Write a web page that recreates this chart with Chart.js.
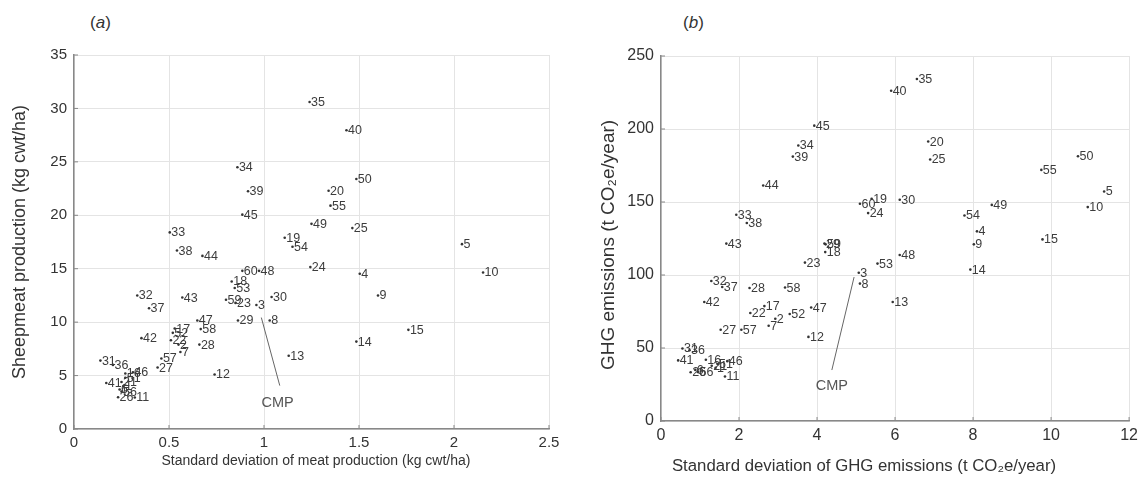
<!DOCTYPE html>
<html><head><meta charset="utf-8">
<script src="https://cdn.jsdelivr.net/npm/chart.js@4.4.1/dist/chart.umd.min.js"></script>
<style>
body{margin:0;background:#fff;width:1143px;height:482px;overflow:hidden;position:relative;font-family:"Liberation Sans",Arial,sans-serif;}
.cv{position:absolute;top:0;}
.lab{position:absolute;top:13px;font-size:17px;line-height:20px;color:#333;}
</style></head><body>
<div class="lab" style="left:90px">(<i>a</i>)</div>
<div class="lab" style="left:683px">(<i>b</i>)</div>
<div class="cv" style="left:0;"><canvas id="ca" width="570" height="482"></canvas></div>
<div class="cv" style="left:580px;"><canvas id="cb" width="563" height="482"></canvas></div>
<script>
// farm identifiers
const farmIds = [1,2,3,4,5,6,7,8,9,10,11,12,13,14,15,16,17,18,19,20,21,22,23,24,25,26,27,28,29,30,
  31,32,33,34,35,36,37,38,39,40,41,42,43,44,45,46,47,48,49,50,51,52,53,54,55,56,57,58,59,60];

// panel (a): standard deviation of meat production vs sheepmeat production
const sdMeat = [0.26,0.55,0.96,1.504,2.042,0.24,0.56,1.03,1.60,2.153,0.32,0.74,1.13,1.486,1.76,0.27,0.53,0.83,1.109,1.34,
  0.25,0.51,0.85,1.244,1.465,0.232,0.44,0.66,0.863,1.04,0.139,0.333,0.504,0.86,1.24,0.205,0.395,0.542,0.916,1.434,
  0.17,0.355,0.57,0.676,0.886,0.31,0.649,0.974,1.25,1.486,0.27,0.52,0.846,1.15,1.35,0.25,0.46,0.667,0.80,0.886];
const sheepmeat = [4.0,7.9,11.6,14.53,17.3,3.7,7.2,10.15,12.5,14.65,2.95,5.1,6.85,8.18,9.28,5.2,9.4,13.8,17.9,22.3,
  4.4,8.3,11.8,15.15,18.8,2.97,5.75,7.9,10.15,12.35,6.4,12.5,18.4,24.5,30.6,6.0,11.3,16.7,22.25,27.96,
  4.3,8.5,12.3,16.2,20.06,5.3,10.15,14.8,19.2,23.4,4.8,9.0,13.2,17.05,20.9,3.5,6.6,9.35,12.1,14.8];

// panel (b): standard deviation of GHG emissions vs GHG emissions
const sdGhg = [1.4,2.93,5.07,8.1,11.36,0.88,2.76,5.1,8.02,10.94,1.64,3.78,5.94,7.93,9.78,1.15,2.65,4.21,5.4,6.85,
  1.3,2.29,3.69,5.31,6.9,0.76,1.53,2.27,4.19,6.12,0.55,1.29,1.93,3.52,6.56,0.73,1.57,2.2,3.38,5.9,
  0.44,1.11,1.675,2.62,3.93,1.7,3.85,6.12,8.48,10.69,1.45,3.3,5.55,7.78,9.75,0.95,2.06,3.18,4.22,5.1];
const ghg = [36.5,70,101.5,129.9,157.2,35,65.2,94.1,121,146.5,30.5,57.6,81.5,103.7,124.4,42,78.7,115.7,152.2,191.4,
  37.8,74,108.5,142.4,179.1,33.4,62.5,91.1,121.5,151.5,49.7,95.9,141.3,188.7,234.2,48.5,91.8,135.6,181.1,226.2,
  41.5,81.5,121.5,161.3,202.3,41,77.7,113.7,148,181.3,39,73.3,107.8,140.8,172,33.5,62.5,91.4,121,148.8];

// CMP annotation (data units): leader line start/end, text anchor
const cmpA = [[0.986,10.43],[1.083,4.06],[1.072,2.44]];
const cmpB = [[4.95,98.6],[4.38,34.9],[4.38,24]];

const FONT = '"Liberation Sans", Arial, sans-serif';

const drawPlugin = {
  id:'extras',
  afterDatasetsDraw(chart, args, o){
    const ctx = chart.ctx, xs = chart.scales.x, ys = chart.scales.y;
    const ca = chart.chartArea;
    ctx.save();
    // inward ticks
    ctx.strokeStyle = '#888'; ctx.lineWidth = 1;
    xs.ticks.forEach(t=>{const p = xs.getPixelForValue(t.value);
      ctx.beginPath(); ctx.moveTo(p, ca.bottom); ctx.lineTo(p, ca.bottom-4); ctx.stroke();});
    ys.ticks.forEach(t=>{const p = ys.getPixelForValue(t.value);
      ctx.beginPath(); ctx.moveTo(ca.left, p); ctx.lineTo(ca.left+4, p); ctx.stroke();});
    // point labels
    const meta = chart.getDatasetMeta(0);
    ctx.font = '12.5px ' + FONT; ctx.fillStyle = '#3c3c3c';
    ctx.textBaseline = 'middle'; ctx.textAlign = 'left';
    meta.data.forEach((el,i)=>{ ctx.fillText(String(farmIds[i]), el.x+1.5, el.y+0.5); });
    // CMP annotation
    const c = o.cmp;
    ctx.strokeStyle = '#666'; ctx.lineWidth = 1;
    ctx.beginPath();
    ctx.moveTo(xs.getPixelForValue(c[0][0]), ys.getPixelForValue(c[0][1]));
    ctx.lineTo(xs.getPixelForValue(c[1][0]), ys.getPixelForValue(c[1][1]));
    ctx.stroke();
    ctx.font = '14.5px ' + FONT; ctx.fillStyle = '#555'; ctx.textAlign = 'center';
    ctx.fillText('CMP', xs.getPixelForValue(c[2][0]), ys.getPixelForValue(c[2][1]));
    // axis titles
    ctx.fillStyle = '#333';
    ctx.textAlign = 'center'; ctx.textBaseline = 'middle';
    ctx.font = o.xTitle.size + 'px ' + FONT;
    ctx.fillText(o.xTitle.text, o.xTitle.cx, o.xTitle.cy);
    ctx.font = o.yTitle.size + 'px ' + FONT;
    ctx.translate(o.yTitle.cx, o.yTitle.cy); ctx.rotate(-Math.PI/2);
    ctx.fillText(o.yTitle.text, 0, 0);
    ctx.restore();
  }
};

const fmt = v => String(Math.round(v*100)/100);

function makeChart(id, xv, yv, xr, yr, lay, titles, cmp){
  const pts = xv.map((x,i)=>({x:x, y:yv[i]}));
  return new Chart(document.getElementById(id), {
    type:'scatter',
    data:{datasets:[{data:pts, pointRadius:1.3, pointBackgroundColor:'#333', pointBorderWidth:0}]},
    options:{
      responsive:false, animation:false,
      layout:{padding:{top:lay.top, right:lay.right, left:0, bottom:0}},
      plugins:{legend:{display:false}, tooltip:{enabled:false},
        extras:{cmp:cmp, xTitle:titles.x, yTitle:titles.y}},
      scales:{
        x:{type:'linear', min:xr[0], max:xr[1],
          ticks:{stepSize:xr[2], color:'#333', font:{size:lay.tick, family:FONT}, padding:5, callback:fmt},
          grid:{color:'#e4e4e4', drawTicks:false},
          border:{color:'#888', width:1.5},
          afterFit(s){ s.height = lay.xh; }},
        y:{type:'linear', min:yr[0], max:yr[1],
          ticks:{stepSize:yr[2], color:'#333', font:{size:lay.tick, family:FONT}, padding:7, callback:fmt},
          grid:{color:'#e4e4e4', drawTicks:false},
          border:{color:'#888', width:1.5},
          afterFit(s){ s.width = lay.yw; }}
      }
    },
    plugins:[drawPlugin]
  });
}

makeChart('ca', sdMeat, sheepmeat, [0,2.5,0.5], [0,35,5],
  {top:55, right:21, xh:53, yw:74, tick:15},
  {x:{text:'Standard deviation of meat production (kg cwt/ha)', cx:316, cy:461, size:14},
   y:{text:'Sheepmeat production (kg cwt/ha)', cx:20, cy:242, size:18}}, cmpA);

makeChart('cb', sdGhg, ghg, [0,12,2], [0,250,50],
  {top:56, right:9, xh:61, yw:81, tick:16},
  {x:{text:'Standard deviation of GHG emissions (t CO\u2082e/year)', cx:284, cy:466, size:16.8},
   y:{text:'GHG emissions (t CO\u2082e/year)', cx:29, cy:245, size:19}}, cmpB);
</script>
</body></html>
